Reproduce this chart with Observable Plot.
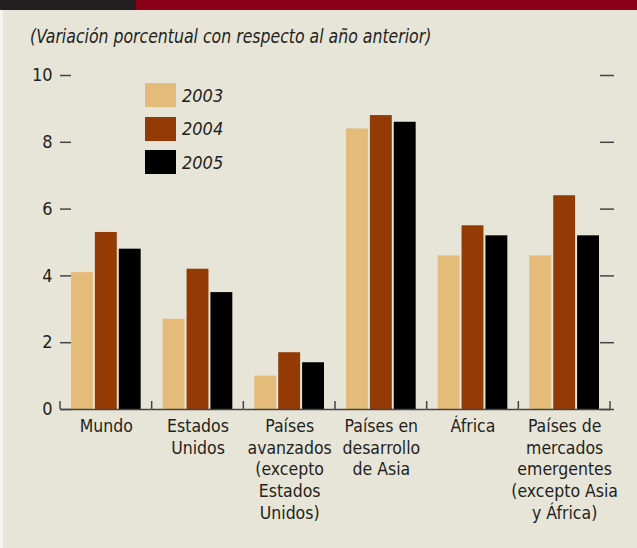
<!DOCTYPE html>
<html>
<head>
<meta charset="utf-8">
<script src="https://cdn.jsdelivr.net/npm/d3@7"></script>
<script src="https://cdn.jsdelivr.net/npm/@observablehq/plot@0.6"></script>
<style>
  html, body { margin: 0; padding: 0; background: #ffffff; }
  #wrap { position: relative; width: 637px; height: 548px; background: #e7e5d8; overflow: hidden;
          font-family: "Liberation Sans Narrow", "Arial Narrow", "DejaVu Sans Condensed", sans-serif; color: #231f20; }
  #edge { position: absolute; left: 0; top: 0; width: 3px; height: 548px; background: #f4f3ee; }
  #topbar { position: absolute; left: 0; top: 0; width: 637px; height: 10px;
            background: linear-gradient(to right, #231f20 0, #231f20 136px, #8b0019 136px, #8b0019 100%); }
  #subtitle { position: absolute; left: 30px; top: 25px; font-size: 19px; font-style: italic; white-space: nowrap;
              transform: scaleX(0.92); transform-origin: left center; }
  #chart { position: absolute; left: 0; top: 0; }
  #legend { position: absolute; left: 145px; top: 83px; }
  .item { display: flex; align-items: center; height: 24px; margin-bottom: 9.5px; }
  .sw { width: 31px; height: 24px; margin-right: 6px; }
  .lab { font-size: 18px; font-style: italic; }
</style>
</head>
<body>
<div id="wrap">
  <div id="edge"></div>
  <div id="chart"></div>
  <div id="topbar"></div>
  <div id="subtitle">(Variación porcentual con respecto al año anterior)</div>
  <div id="legend"></div>
</div>
<script>
const categories = [
  "Mundo",
  "Estados\nUnidos",
  "Países\navanzados\n(excepto\nEstados\nUnidos)",
  "Países en\ndesarrollo\nde Asia",
  "África",
  "Países de\nmercados\nemergentes\n(excepto Asia\ny África)"
];
const years = ["2003", "2004", "2005"];
const values2003 = [4.1, 2.7, 1.0, 8.4, 4.6, 4.6];
const values2004 = [5.3, 4.2, 1.7, 8.8, 5.5, 6.4];
const values2005 = [4.8, 3.5, 1.4, 8.6, 5.2, 5.2];
const yTicks = [0, 2, 4, 6, 8, 10];
const colors = ["#e5bb7a", "#933a05", "#000000"];

const series = [values2003, values2004, values2005];
const data = [];
categories.forEach((c, i) => years.forEach((y, j) => data.push({category: c, year: y, value: series[j][i]})));

const W = 637, H = 548, mL = 60, mR = 27, mT = 75, mB = 139;
const pI = 0.24, pO = 0.12;
const step = (W - mL - mR) / (categories.length - pI + 2 * pO);
const pad = step * pI / 2;
const font = '"Liberation Sans Narrow", "Arial Narrow", "DejaVu Sans Condensed", sans-serif';

const chart = Plot.plot({
  width: W, height: H,
  marginLeft: mL, marginRight: mR, marginTop: mT, marginBottom: mB,
  style: {background: "transparent", fontFamily: font, color: "#231f20", overflow: "visible"},
  fx: {domain: categories, paddingInner: pI, paddingOuter: pO, round: false, label: null},
  x: {domain: years, paddingInner: 0.083, paddingOuter: 0, round: false, axis: null},
  y: {domain: [0, 10], label: null},
  color: {domain: years, range: colors},
  marks: [
    Plot.barY(data, {fx: "category", x: "year", y: "value", fill: "year"}),
    Plot.ruleY([0], {stroke: "#444", strokeWidth: 1.5, insetLeft: -pad, insetRight: -pad}),
    Plot.axisY({anchor: "left", ticks: yTicks, tickSize: 11, tickPadding: 8, fontSize: 18, stroke: "#444", strokeWidth: 1.5, label: null}),
    Plot.axisY({anchor: "right", ticks: yTicks, tickSize: 14, tickFormat: () => "", stroke: "#444", strokeWidth: 1.5, label: null}),
    Plot.axisFx({anchor: "bottom", tickSize: 0, tickPadding: 7, fontSize: 17.5, lineHeight: 1.24, label: null})
  ]
});
document.getElementById("chart").appendChild(chart);

// category boundary ticks on the baseline, from the library's fx and y scales
const fxs = chart.scale("fx"), ys = chart.scale("y");
const y0 = ys.apply(0);
const half = (fxs.step - fxs.bandwidth) / 2;
const bounds = categories.map(c => fxs.apply(c) - half);
bounds.push(fxs.apply(categories[categories.length - 1]) + fxs.bandwidth + half);
const svg = d3.select(chart);
svg.append("g").selectAll("line").data(bounds).join("line")
  .attr("x1", d => d).attr("x2", d => d)
  .attr("y1", y0 - 8).attr("y2", y0)
  .attr("stroke", "#444").attr("stroke-width", 1.5);

// legend
const leg = d3.select("#legend");
years.forEach((y, i) => {
  const it = leg.append("div").attr("class", "item");
  it.append("div").attr("class", "sw").style("background", colors[i]);
  it.append("div").attr("class", "lab").text(y);
});
</script>
</body>
</html>
